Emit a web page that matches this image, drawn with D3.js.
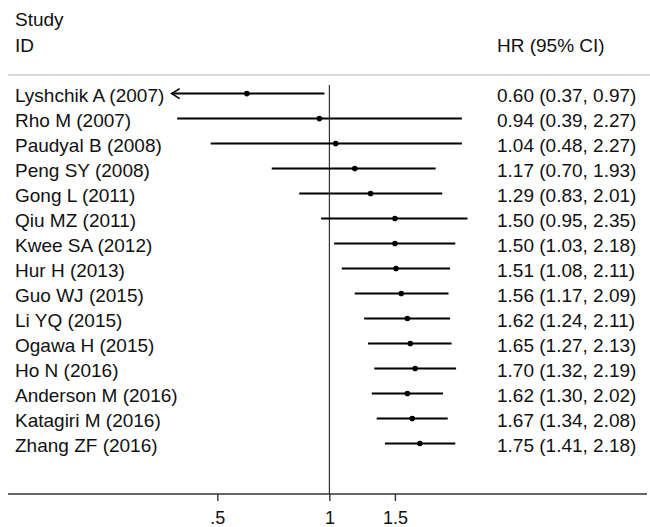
<!DOCTYPE html>
<html>
<head>
<meta charset="utf-8">
<script src="https://cdn.jsdelivr.net/npm/d3@7"></script>
<style>
  html, body { margin: 0; padding: 0; background: #fff; }
  svg { display: block; }
  text { font-family: "Liberation Sans", Arial, sans-serif; fill: #111; }
</style>
</head>
<body>
<svg id="chart" width="650" height="527"></svg>
<script>
const studies = ["Lyshchik A (2007)", "Rho M (2007)", "Paudyal B (2008)", "Peng SY (2008)",
  "Gong L (2011)", "Qiu MZ (2011)", "Kwee SA (2012)", "Hur H (2013)", "Guo WJ (2015)",
  "Li YQ (2015)", "Ogawa H (2015)", "Ho N (2016)", "Anderson M (2016)", "Katagiri M (2016)",
  "Zhang ZF (2016)"];
const hr    = [0.60, 0.94, 1.04, 1.17, 1.29, 1.50, 1.50, 1.51, 1.56, 1.62, 1.65, 1.70, 1.62, 1.67, 1.75];
const lower = [0.37, 0.39, 0.48, 0.70, 0.83, 0.95, 1.03, 1.08, 1.17, 1.24, 1.27, 1.32, 1.30, 1.34, 1.41];
const upper = [0.97, 2.27, 2.27, 1.93, 2.01, 2.35, 2.18, 2.11, 2.09, 2.11, 2.13, 2.19, 2.02, 2.08, 2.18];
const tickValues = [0.5, 1, 1.5];
const tickLabels = [".5", "1", "1.5"];
const headers = ["Study", "ID", "HR (95% CI)"];

const svg = d3.select("#chart");
const fs = 19;

const xMin = 0.377, xMax = 2.65;
const x = d3.scaleLog().domain([xMin, xMax]).range([171.7, 486.9]);
const y = d3.scalePoint().domain(d3.range(studies.length)).range([93.6, 443.5]);

// headers
svg.append("text").attr("x", 15).attr("y", 26).attr("font-size", fs).text(headers[0]);
svg.append("text").attr("x", 15).attr("y", 52).attr("font-size", fs).text(headers[1]);
svg.append("text").attr("x", 497).attr("y", 52).attr("font-size", fs).text(headers[2]);

// top separator
svg.append("line").attr("x1", 8).attr("x2", 650).attr("y1", 75).attr("y2", 75)
  .attr("stroke", "#cfcfcf").attr("stroke-width", 1.6);

// null line
svg.append("line").attr("x1", x(1)).attr("x2", x(1)).attr("y1", 85).attr("y2", 494)
  .attr("stroke", "#222").attr("stroke-width", 1.1);

// x axis
const axisY = 494;
svg.append("line").attr("x1", 8).attr("x2", 647).attr("y1", axisY).attr("y2", axisY)
  .attr("stroke", "#333").attr("stroke-width", 1.6);
const axis = d3.axisBottom(x).tickValues(tickValues)
  .tickFormat((d, i) => tickLabels[i]).tickSize(7).tickPadding(10);
const gAxis = svg.append("g").attr("transform", `translate(0,${axisY})`).call(axis);
gAxis.select(".domain").remove();
gAxis.selectAll(".tick line").attr("stroke", "#333").attr("stroke-width", 1.4);
gAxis.selectAll(".tick text").attr("font-size", 18)
  .attr("font-family", '"Liberation Sans", Arial, sans-serif').attr("fill", "#111");

// rows
const rows = svg.append("g");
studies.forEach((s, i) => {
  const yy = y(i);
  rows.append("text").attr("x", 15).attr("y", yy + 8.5).attr("font-size", fs).text(s);
  rows.append("text").attr("x", 497).attr("y", yy + 8.5).attr("font-size", fs)
    .text(`${hr[i].toFixed(2)} (${lower[i].toFixed(2)}, ${upper[i].toFixed(2)})`);
  const lo = Math.max(lower[i], xMin), hi = Math.min(upper[i], xMax);
  rows.append("line").attr("x1", x(lo)).attr("x2", x(hi)).attr("y1", yy).attr("y2", yy)
    .attr("stroke", "#000").attr("stroke-width", 2);
  if (lower[i] < xMin) {
    const ax = x(xMin);
    rows.append("path")
      .attr("d", `M${ax + 8},${yy - 5} L${ax},${yy} L${ax + 8},${yy + 5}`)
      .attr("fill", "none").attr("stroke", "#000").attr("stroke-width", 1.6);
  }
  rows.append("circle").attr("cx", x(hr[i])).attr("cy", yy).attr("r", 2.8).attr("fill", "#000");
});
</script>
</body>
</html>
